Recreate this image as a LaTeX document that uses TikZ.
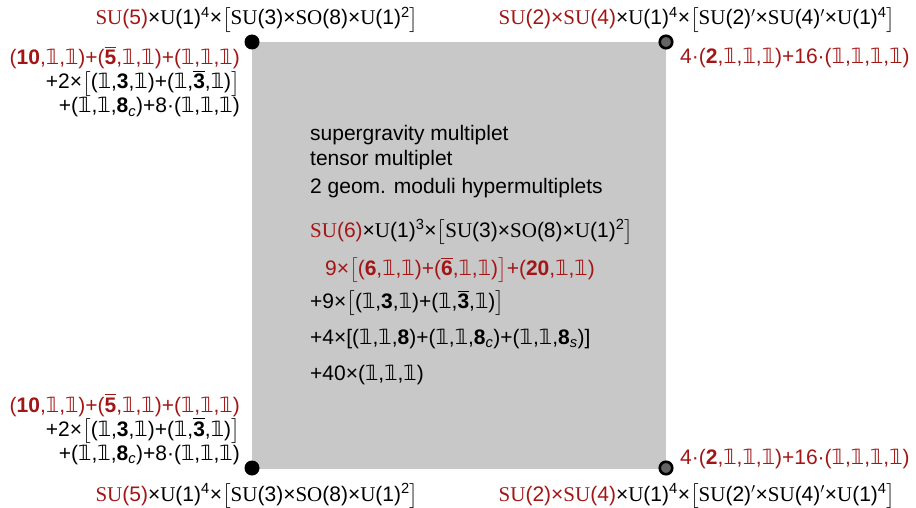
\documentclass[tikz,border=0pt]{standalone}
\usepackage{amsmath}
\usepackage{fontspec}
\setmainfont{Liberation Sans}
\newfontfamily\grpfont{Liberation Serif}
\newfontfamily\dvfont{DejaVu Sans}
\usetikzlibrary{positioning}
\definecolor{clrR}{RGB}{163,22,22}
\definecolor{clrBox}{RGB}{200,200,200}
\definecolor{clrDot}{RGB}{100,100,100}
\newcommand{\one}{{\dvfont 𝟙}}
\newcommand{\grp}[1]{{\grpfont #1}}
\newcommand{\bbar}[1]{$\overline{\hbox{\bfseries #1}}$}
\newcommand{\hdL}[1]{\textcolor{clrR}{\grp{SU}(#1)}×\grp{U}(1)\textsuperscript{4}×$\big[$\grp{SU}(3)×\grp{SO}(8)×\grp{U}(1)\textsuperscript{2}$\big]$}
\newcommand{\hdR}{\textcolor{clrR}{\grp{SU}(2)×\grp{SU}(4)}×\grp{U}(1)\textsuperscript{4}×$\big[$\grp{SU}(2)$'$×\grp{SU}(4)$'$×\grp{U}(1)\textsuperscript{4}$\big]$}
\newcommand{\spLa}{\textcolor{clrR}{(\textbf{10},\one,\one)+(\bbar{5},\one,\one)+(\one,\one,\one)}}
\newcommand{\spLb}{+2×$\big[$(\one,\textbf{3},\one)+(\one,\bbar{3},\one)$\big]$}
\newcommand{\spLc}{+(\one,\one,\textbf{8}\textsubscript{\textit{c}})+8·(\one,\one,\one)}
\newcommand{\spR}{\textcolor{clrR}{4·(\textbf{2},\one,\one,\one)+16·(\one,\one,\one,\one)}}

\begin{document}
\begin{tikzpicture}[x=1pt,y=-1pt,font=\fontsize{21}{24}\selectfont,
  corner/.style={circle,fill=black,inner sep=0pt,minimum size=15pt},
  cornerg/.style={circle,draw=black,fill=clrDot,line width=2.6pt,inner sep=0pt,minimum size=12.5pt},
  txt/.style={inner sep=0pt}]
  \useasboundingbox (0,0) rectangle (916,508);

  % moduli space
  \fill[clrBox] (252,42) rectangle (666,469);
  \node[corner] (cTL) at (252,42) {};
  \node[corner] (cBL) at (252,468) {};
  \node[cornerg] (cTR) at (666,42) {};
  \node[cornerg] (cBR) at (666,468) {};

  % corner groups
  \node[txt,anchor=base] (hdTL) at (257,25) {\hdL{5}};
  \node[txt,anchor=base] (hdBL) at (257,501) {\hdL{5}};
  \node[txt,anchor=base] (hdTR) at (697,25) {\hdR};
  \node[txt,anchor=base] (hdBR) at (697,501) {\hdR};

  % corner spectra
  \foreach \y/\nm in {65/TL,412/BL}{
    \node[txt,anchor=base east] (\nm a) at (240,\y) {\spLa};
    \node[txt,anchor=base east] (\nm b) at (240,\y+24) {\spLb};
    \node[txt,anchor=base east] (\nm c) at (240,\y+48) {\spLc};
  }
  \node[txt,anchor=base west] (spTR) at (680,64) {\spR};
  \node[txt,anchor=base west] (spBR) at (680,464) {\spR};

  % interior
  \node[txt,anchor=west] (m1) at (310,135) {supergravity multiplet};
  \node[txt,anchor=west] (m2) at (310,160) {tensor multiplet};
  \node[txt,anchor=west] (m3) at (310,188) {2 geom. moduli hypermultiplets};
  \node[txt,anchor=west] (g6) at (310,232)
    {\textcolor{clrR}{\grp{SU}(6)}×\grp{U}(1)\textsuperscript{3}×$\big[$\grp{SU}(3)×\grp{SO}(8)×\grp{U}(1)\textsuperscript{2}$\big]$};
  \node[txt,anchor=west,text=clrR] (s1) at (325,270)
    {9×$\big[$(\textbf{6},\one,\one)+(\bbar{6},\one,\one)$\big]$+(\textbf{20},\one,\one)};
  \node[txt,anchor=west] (s2) at (310,303)
    {+9×$\big[$(\one,\textbf{3},\one)+(\one,\bbar{3},\one)$\big]$};
  \node[txt,anchor=west] (s3) at (310,339)
    {+4×[(\one,\one,\textbf{8})+(\one,\one,\textbf{8}\textsubscript{\textit{c}})+(\one,\one,\textbf{8}\textsubscript{\textit{s}})]};
  \node[txt,anchor=west] (s4) at (310,375) {+40×(\one,\one,\one)};
\end{tikzpicture}
\end{document}
